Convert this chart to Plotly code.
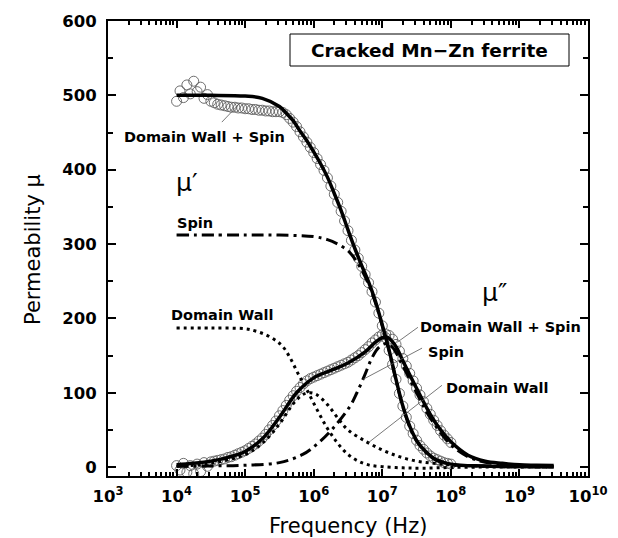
import numpy as np
import plotly.graph_objects as go

# ---------------- data (log10 frequency grids / permeability values) ----------------
# fitted total curves
fit_mu1_logf = [4.0, 4.5, 5.0, 5.25, 5.5, 5.6, 5.7, 5.8, 5.9, 6.0, 6.1, 6.2, 6.3, 6.4, 6.5, 6.6, 6.7, 6.8,
                6.9, 7.0, 7.1, 7.2, 7.3, 7.4, 7.5, 7.6, 7.75, 8.0, 8.5, 9.0, 9.5]
fit_mu1 = [500, 500, 499, 496, 485, 476, 466, 452, 439, 424, 408, 390, 368, 345, 319, 294, 271, 249,
           223, 191, 157, 118, 82, 55, 36, 24, 12, 4, 1.5, 0.7, 0.4]

fit_mu2_logf = [4.0, 4.25, 4.5, 4.75, 5.0, 5.25, 5.5, 5.75, 6.0, 6.25, 6.5, 6.75, 6.9, 7.0, 7.05, 7.1,
                7.2, 7.3, 7.5, 7.7, 7.85, 8.0, 8.25, 8.5, 8.75, 9.0, 9.25, 9.5]
fit_mu2 = [3, 5, 8, 13, 21, 38, 67, 100, 120, 130, 140, 155, 168, 174, 175, 173,
           162, 143, 106, 71, 50, 34, 16, 8, 5, 3, 2.5, 2]

# domain wall component
dw_mu1_logf = [4.0, 4.5, 5.0, 5.15, 5.3, 5.45, 5.55, 5.65, 5.77, 5.9, 6.05, 6.2, 6.35, 6.5, 6.65, 6.8,
               7.0, 7.3, 7.6, 8.0, 8.5, 9.0, 9.5]
dw_mu1 = [187, 187, 186, 183, 178, 170, 162, 148, 126, 104, 77, 52, 32, 17, 8, 3,
          0.5, -1, -1.5, -0.5, 0, 0, 0]
dw_mu2_logf = [4.0, 4.5, 5.0, 5.25, 5.5, 5.7, 5.85, 5.95, 6.05, 6.2, 6.35, 6.5, 6.75, 7.0, 7.25, 7.5,
               7.75, 8.0, 8.5, 9.0, 9.5]
dw_mu2 = [1, 5, 17, 32, 58, 85, 98, 100, 97, 84, 66, 50, 35, 23, 14, 8,
          5, 3, 1, 0.4, 0.2]

# spin component
sp_mu1_logf = [4.0, 5.0, 5.5, 6.0, 6.2, 6.35, 6.5, 6.6, 6.7, 6.8, 6.9, 7.0, 7.1, 7.2, 7.3, 7.4, 7.5,
               7.75, 8.0, 8.5, 9.0, 9.5]
sp_mu1 = [312, 312, 312, 310, 306, 300, 291, 280, 265, 246, 221, 190, 156, 117, 81, 54, 35,
          11, 3.5, 1.2, 0.5, 0.3]
sp_mu2_logf = [4.0, 4.5, 5.0, 5.5, 5.84, 6.05, 6.28, 6.53, 6.63, 6.75, 6.85, 6.95, 7.05, 7.15, 7.3,
               7.5, 7.7, 8.0, 8.25, 8.5, 9.0, 9.5]
sp_mu2 = [1, 1.5, 2.5, 6, 17, 31, 52, 82, 100, 125, 147, 161, 166, 161, 136,
          100, 66, 30, 14, 6.5, 2, 1]

# measured data (log10 f from 4.00 to 8.00, step 0.05)
meas_logf = np.round(np.linspace(4.0, 8.0, 81), 2)
meas_mu1 = [492, 506, 497, 514, 502, 519, 505, 511, 496, 501, 492, 490, 488, 487, 486, 485, 484, 484,
            483, 483, 482, 482, 481, 481, 480, 480, 479, 479, 478, 478, 478, 477, 474, 469, 464, 458,
            451, 444, 437, 430, 423, 415, 407, 399, 389, 378, 367, 356, 344, 331, 318, 305, 292, 281,
            270, 259, 248, 236, 222, 207, 190, 174, 157, 138, 118, 99, 82, 67, 55, 45, 36, 29, 24,
            19, 15, 12, 10, 8, 6, 5, 4]
meas_mu2 = [2, -4, 5, -7, 2, -9, 4, -6, 6, 1, 7, 8, 9, 10, 11, 13, 14, 16, 18, 20, 22, 25, 28, 31, 35,
            39, 44, 50, 56, 62, 69, 76, 83, 90, 96, 102, 107, 112, 116, 119, 121, 123, 125, 127, 129,
            131, 133, 135, 137, 139, 141, 144, 147, 150, 154, 158, 162, 167, 171, 175, 178, 179, 177,
            172, 165, 156, 146, 136, 126, 116, 106, 97, 88, 79, 71, 63, 56, 49, 43, 38, 33]

# leader lines (log10 f, mu)
lead_left_dws = ([4.66, 4.93], [464, 490])
lead_right_dws = ([7.52, 7.22], [188, 168])
lead_right_spin = ([7.58, 6.72], [160, 118])
lead_right_dw = ([7.87, 6.80], [110, 33])

# ---------------- figure ----------------
OFF = 8                      # default page margin of the html body
W, H = 618 - OFF, 538 - OFF
L, R, T, B = 100, 30, 13, 62
PW, PH = W - L - R, H - T - B


def px(x, y):
    """window pixel -> paper coordinates"""
    return (x - OFF - L) / PW, (H - B - (y - OFF)) / PH


def f(a):
    return [10 ** v for v in a]


fig = go.Figure()

mk = dict(symbol="circle-open", size=10, color="rgba(95,95,95,0.9)", line=dict(width=1))
fig.add_trace(go.Scatter(x=f(meas_logf), y=meas_mu1, mode="markers", marker=mk))
fig.add_trace(go.Scatter(x=f(meas_logf), y=meas_mu2, mode="markers", marker=mk))

dot = dict(color="black", width=3, dash="3px,4px")
dashdot = dict(color="black", width=3, dash="12px,5px,3px,5px")
solid = dict(color="black", width=3.5)

fig.add_trace(go.Scatter(x=f(dw_mu1_logf), y=dw_mu1, mode="lines", line=dict(shape="spline", **dot)))
fig.add_trace(go.Scatter(x=f(dw_mu2_logf), y=dw_mu2, mode="lines", line=dict(shape="spline", **dot)))
fig.add_trace(go.Scatter(x=f(sp_mu1_logf), y=sp_mu1, mode="lines", line=dict(shape="spline", **dashdot)))
fig.add_trace(go.Scatter(x=f(sp_mu2_logf), y=sp_mu2, mode="lines", line=dict(shape="spline", **dashdot)))
fig.add_trace(go.Scatter(x=f(fit_mu1_logf), y=fit_mu1, mode="lines", line=dict(shape="spline", **solid)))
fig.add_trace(go.Scatter(x=f(fit_mu2_logf), y=fit_mu2, mode="lines", line=dict(shape="spline", **solid)))

for lx, ly in (lead_left_dws, lead_right_dws, lead_right_spin, lead_right_dw):
    fig.add_trace(go.Scatter(x=f(lx), y=ly, mode="lines", line=dict(color="#555", width=0.8)))

FONT = "DejaVu Sans"
lab = dict(family=FONT, size=14.5, color="black", weight="bold")
ann = []


def add_text(text, x, y, font, angle=0):
    xp, yp = px(x, y)
    ann.append(dict(text=text, x=xp, y=yp, xref="paper", yref="paper", showarrow=False,
                    xanchor="center", yanchor="middle", font=font, textangle=angle))


add_text("Cracked Mn\u2212Zn ferrite", 429, 50, dict(family=FONT, size=18.5, color="black", weight="bold"))
add_text("Domain Wall + Spin", 204, 137, lab)
add_text("\u03bc\u2032", 187, 183, dict(family=FONT, size=25, color="black"))
add_text("Spin", 195, 223, lab)
add_text("Domain Wall", 222, 315, lab)
add_text("\u03bc\u2033", 494, 292, dict(family=FONT, size=25, color="black"))
add_text("Domain Wall + Spin", 500, 327, lab)
add_text("Spin", 446, 352, lab)
add_text("Domain Wall", 497, 388, lab)
# axis titles
add_text("Frequency (Hz)", 348, 526, dict(family=FONT, size=21, color="black"))
add_text("Permeability \u03bc", 33, 250, dict(family=FONT, size=21, color="black"), angle=-90)

x0, y0 = px(290, 66)
x1, y1 = px(569, 34)
fig.add_shape(type="rect", xref="paper", yref="paper", x0=x0, y0=y0, x1=x1, y1=y1,
              line=dict(color="black", width=1), fillcolor="white", layer="below")

tickfont = dict(family=FONT, size=16.5, color="black", weight="bold")
minor_x = [k * 10 ** e for e in range(3, 10) for k in range(2, 10)]

fig.update_layout(
    width=W, height=H, margin=dict(l=L, r=R, t=T, b=B, autoexpand=False),
    paper_bgcolor="white", plot_bgcolor="white", showlegend=False,
    annotations=ann,
    xaxis=dict(type="log", range=[3, 10],
               tickmode="array", tickvals=[10 ** e for e in range(3, 11)],
               ticktext=["10<sup>%d</sup>" % e for e in range(3, 11)],
               ticks="inside", ticklen=7, tickwidth=2, tickcolor="black",
               minor=dict(tickmode="array", tickvals=minor_x, ticks="inside", ticklen=4,
                          tickwidth=1.5, tickcolor="black", showgrid=False),
               showline=True, linewidth=2, linecolor="black", mirror="allticks",
               showgrid=False, zeroline=False, tickfont=tickfont, ticklabelstandoff=4),
    yaxis=dict(range=[-12, 600], tickmode="array", tickvals=[0, 100, 200, 300, 400, 500, 600],
               ticks="inside", ticklen=8, tickwidth=2, tickcolor="black",
               minor=dict(tickmode="array", tickvals=[50, 150, 250, 350, 450, 550], ticks="inside",
                          ticklen=5, tickwidth=1.5, tickcolor="black", showgrid=False),
               showline=True, linewidth=2, linecolor="black", mirror="allticks",
               showgrid=False, zeroline=False, tickfont=tickfont, ticklabelstandoff=6),
)

fig.write_html("out.html")
